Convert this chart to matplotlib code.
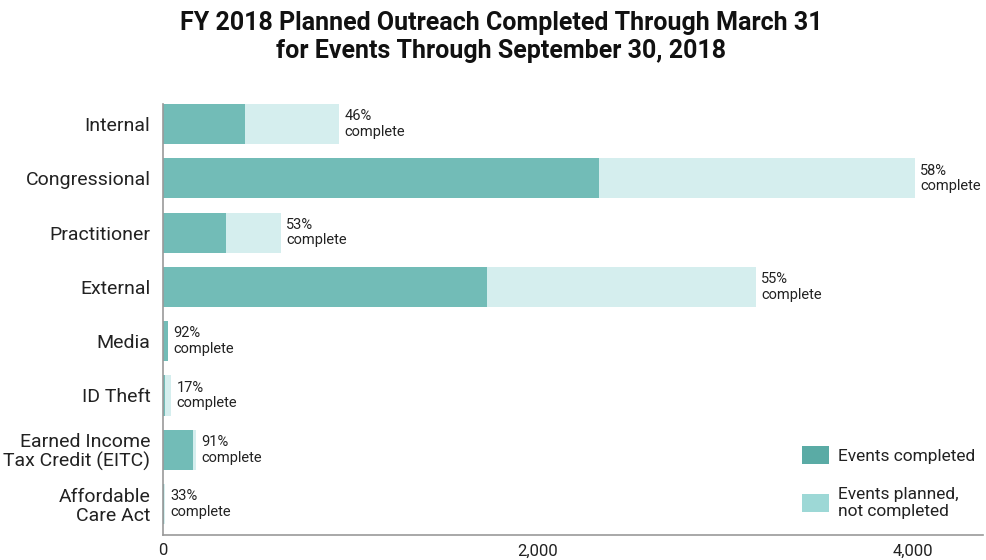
import matplotlib
matplotlib.use("Agg")
import matplotlib.pyplot as plt
from matplotlib.patches import Patch
import numpy as np

categories = ["Internal", "Congressional", "Practitioner", "External", "Media",
              "ID Theft", "Earned Income\nTax Credit (EITC)", "Affordable\nCare Act"]
completed = [437, 2325, 336, 1728, 27, 8, 160, 3]
planned_total = [939, 4011, 629, 3163, 29, 43, 176, 9]
pct_labels = ["46%", "58%", "53%", "55%", "92%", "17%", "91%", "33%"]
xticks = [0, 2000, 4000]
xtick_labels = ["0", "2,000", "4,000"]

plt.rcParams['font.family'] = ['Roboto', 'DejaVu Sans']

fig = plt.figure(figsize=(9.87, 5.6), dpi=100)
ax = fig.add_axes([163/987, 1-535/560, (983-163)/987, (535-104)/560])

y = np.arange(len(categories))
remaining = [t - c for t, c in zip(planned_total, completed)]
c_done = "#72bcb7"
c_rem = "#d5eeee"
ax.barh(y, completed, height=0.74, color=c_done, linewidth=0)
ax.barh(y, remaining, left=completed, height=0.74, color=c_rem, linewidth=0)

for yi, tot, p in zip(y, planned_total, pct_labels):
    ax.text(tot + 28, yi, p + "\ncomplete", va="center", ha="left",
            fontsize=10.5, color="#222222", linespacing=1.15)

ax.set_ylim(len(categories) - 0.43, -0.37)
ax.set_xlim(0, 4373)
ax.set_yticks(y)
ax.set_yticklabels(categories, fontsize=14, color="#222222", linespacing=1.05)
ax.set_xticks(xticks)
ax.set_xticklabels(xtick_labels, fontsize=12, color="#222222")
ax.tick_params(axis="y", length=0, pad=9)
ax.tick_params(axis="x", length=0, pad=6)

for s in ["top", "right"]:
    ax.spines[s].set_visible(False)
for s in ["left", "bottom"]:
    ax.spines[s].set_color("#999999")
    ax.spines[s].set_linewidth(1.2)

handles = [Patch(facecolor="#5aaba5", edgecolor="none"),
           Patch(facecolor="#9dd8d6", edgecolor="none")]
leg = fig.legend(handles, ["Events completed", "Events planned,\nnot completed"],
                 loc="upper left", bbox_to_anchor=(786/987, 1-430/560),
                 frameon=False, fontsize=12.5, handlelength=1.55, handleheight=1.25,
                 labelspacing=1.3, handletextpad=0.55)
for t in leg.get_texts():
    t.set_color("#222222")

fig.text(0.508, 1-37/560, "FY 2018 Planned Outreach Completed Through March 31\nfor Events Through September 30, 2018",
         ha="center", va="center", fontsize=18, fontweight="bold", color="#111111",
         linespacing=1.25)

fig.savefig("out.png", dpi=100)
